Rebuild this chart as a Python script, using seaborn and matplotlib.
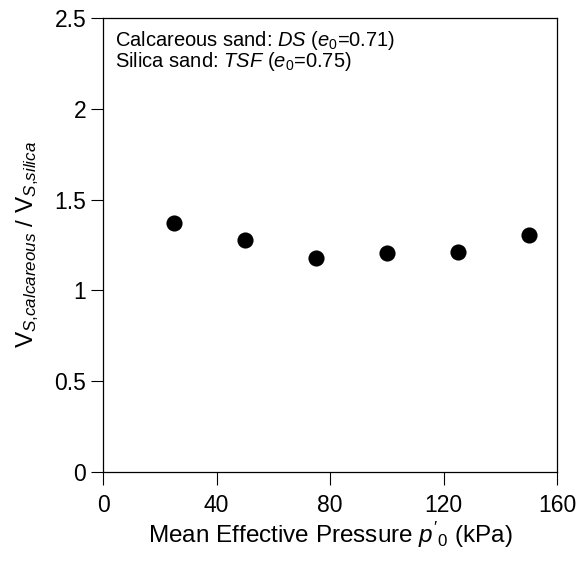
import matplotlib
matplotlib.use("Agg")
import matplotlib.pyplot as plt
import seaborn as sns
import pandas as pd

pressure = [25, 50, 75, 100, 125, 150]
ratio = [1.37, 1.28, 1.18, 1.205, 1.213, 1.303]
x_ticks = [0, 40, 80, 120, 160]
y_ticks = [0, 0.5, 1, 1.5, 2, 2.5]
y_tick_labels = ["0", "0.5", "1", "1.5", "2", "2.5"]

sns.set_theme(style="ticks")
plt.rcParams["font.family"] = ["Liberation Sans", "DejaVu Sans"]
plt.rcParams["mathtext.fontset"] = "custom"
plt.rcParams["mathtext.rm"] = "Liberation Sans"
plt.rcParams["mathtext.it"] = "Liberation Sans:italic"
plt.rcParams["mathtext.bf"] = "Liberation Sans:bold"
plt.rcParams["text.color"] = "black"
plt.rcParams["axes.labelcolor"] = "black"

df = pd.DataFrame({"p": pressure, "r": ratio})

fig = plt.figure(figsize=(5.81, 5.62), dpi=100)
ax = fig.add_axes([103/581, 90/562, 454/581, 454/562])

sns.scatterplot(data=df, x="p", y="r", ax=ax, color="black", s=135,
                edgecolor="black", linewidth=0, zorder=3)

ax.set_xlim(0, 160)
ax.set_ylim(0, 2.5)
ax.set_xticks(x_ticks)
ax.set_xticklabels([str(t) for t in x_ticks])
ax.set_yticks(y_ticks)
ax.set_yticklabels(y_tick_labels)
ax.tick_params(axis="both", direction="out", length=9, width=0.8,
               labelsize=16.5, colors="black", labelcolor="black")
ax.tick_params(axis="y", pad=3)
ax.tick_params(axis="x", pad=7)
for sp in ax.spines.values():
    sp.set_visible(True)
    sp.set_linewidth(0.9)
    sp.set_color("black")

ax.set_xlabel(r"Mean Effective Pressure $\mathit{p'_0}$ (kPa)", fontsize=17.5,
              labelpad=2, color="black")
ax.set_ylabel(r"$\mathrm{V}_{\mathit{S{,}calcareous}}$ / $\mathrm{V}_{\mathit{S{,}silica}}$",
              fontsize=17.5, labelpad=10, color="black")

ax.text(0.027, 0.975, r"Calcareous sand: $\mathit{DS}$ ($\mathit{e}_{\mathit{0}}$=0.71)",
        transform=ax.transAxes, fontsize=14.5, va="top", ha="left", color="black")
ax.text(0.027, 0.929, r"Silica sand: $\mathit{TSF}$ ($\mathit{e}_{\mathit{0}}$=0.75)",
        transform=ax.transAxes, fontsize=14.5, va="top", ha="left", color="black")

fig.savefig("out.png", dpi=100)
